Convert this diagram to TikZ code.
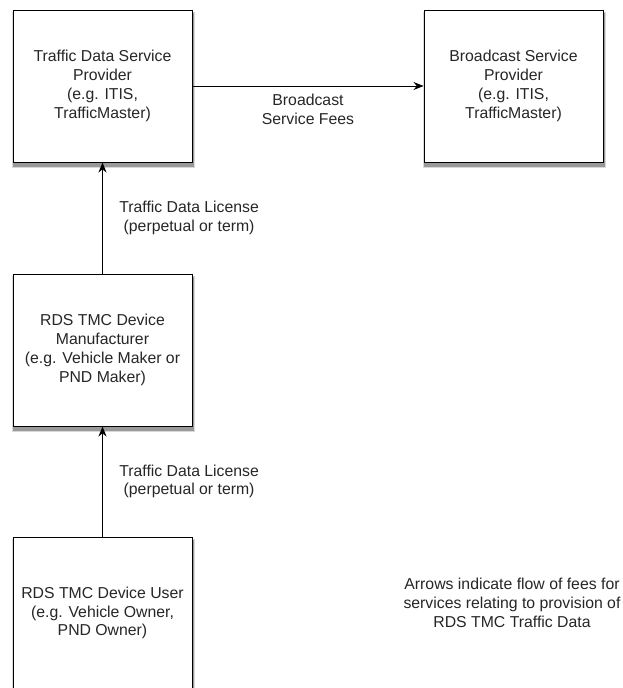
\documentclass[tikz,border=0pt]{standalone}
\usepackage{fontspec}
\setmainfont{Liberation Sans}
\usepackage{tikz}
\usetikzlibrary{positioning, arrows.meta, backgrounds}

\begin{document}
\begin{tikzpicture}[
  font=\fontsize{15.8}{18.8}\selectfont,
  text=black!85,
  node distance=111pt,
  party/.style={rectangle, draw, line width=1pt, minimum width=179pt, minimum height=152pt, align=center, fill=white},
  arr/.style={-{Stealth[length=10pt, width=8pt]}, line width=0.9pt}
]
  \useasboundingbox (0,0) rectangle (623pt,-688pt);
  \node[party] (tdsp) at (102.5pt,-86pt) {Traffic Data Service \\ Provider \\ (e.g. ITIS, \\ TrafficMaster)};
  \node[party, right=231pt of tdsp] (bsp) {Broadcast Service \\ Provider \\ (e.g. ITIS, \\ TrafficMaster)};
  \node[party, below=of tdsp] (maker) {RDS TMC Device \\ Manufacturer \\ (e.g. Vehicle Maker or \\ PND Maker)};
  \node[party, below=110pt of maker] (user) {RDS TMC Device User \\ (e.g. Vehicle Owner, \\ PND Owner)};
  \node[align=center] (note) at (512pt,-603pt) {Arrows indicate flow of fees for \\ services relating to provision of \\ RDS TMC Traffic Data};
  % soft shadows under the boxes
  \begin{scope}[on background layer]
    \foreach \n in {tdsp, bsp, maker, user} {
      \fill[black!15] ([xshift=-1pt, yshift=-5.5pt]\n.south west) rectangle ([xshift=2.5pt, yshift=-2pt]\n.north east);
      \fill[black!40] ([xshift=0.5pt, yshift=-4pt]\n.south west) rectangle ([xshift=1.5pt, yshift=-3pt]\n.north east);
    }
  \end{scope}
  \draw[arr] (tdsp) to node[below=4pt, align=center] {Broadcast \\ Service Fees} (bsp);
  \draw[arr] (maker) to node[right=13pt, align=center] {Traffic Data License \\ (perpetual or term)} (tdsp);
  \draw[arr] (user) to node[right=13pt, align=center] {Traffic Data License \\ (perpetual or term)} (maker);
\end{tikzpicture}
\end{document}
